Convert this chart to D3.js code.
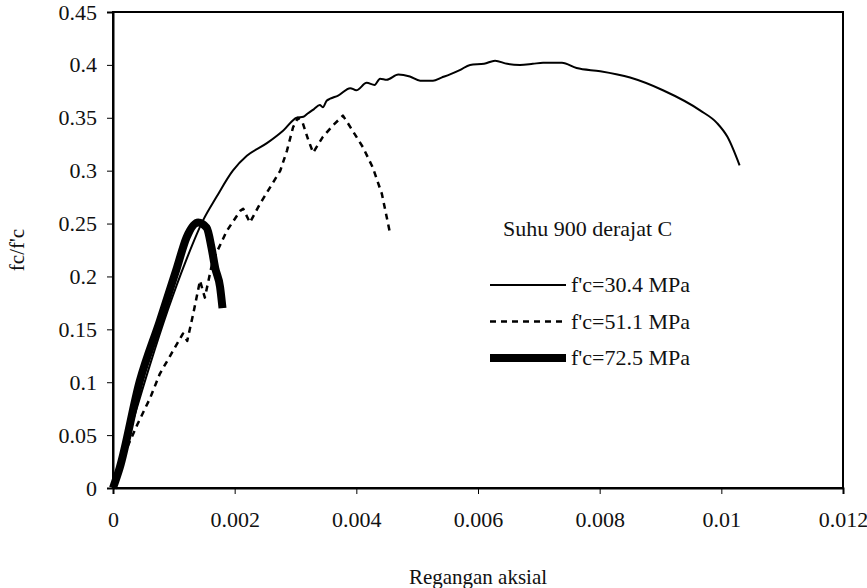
<!DOCTYPE html>
<html>
<head>
<meta charset="utf-8">
<script src="https://cdn.jsdelivr.net/npm/d3@7"></script>
<style>
  body { margin: 0; background: #fff; }
  text { font-family: "Liberation Serif", "Times New Roman", serif; fill: #111; }
  .axis path, .axis line { stroke: #000; }
</style>
</head>
<body>
<div id="chart"></div>
<script>
// strain / stress ratio
const xTicks = [0, 0.002, 0.004, 0.006, 0.008, 0.01, 0.012];
const yTicks = [0, 0.05, 0.1, 0.15, 0.2, 0.25, 0.3, 0.35, 0.4, 0.45];

const labels = ["f'c=30.4 MPa", "f'c=51.1 MPa", "f'c=72.5 MPa"];

const s304x = [0, 0.0003, 0.0006, 0.0009, 0.0012, 0.00148, 0.0017, 0.00197, 0.0022, 0.00253, 0.0028, 0.00302,
  0.00313, 0.0032, 0.0033, 0.0034, 0.00345, 0.00351, 0.00357, 0.0037, 0.0039, 0.004, 0.00417, 0.0043, 0.00439,
  0.0045, 0.00469, 0.00488, 0.00505, 0.00526, 0.0054, 0.00554, 0.0057, 0.00587, 0.0061, 0.00628, 0.00648, 0.00669,
  0.0069, 0.00707, 0.00738, 0.00762, 0.00801, 0.0085, 0.00904, 0.00965, 0.00993, 0.0101, 0.0103];
const s304y = [0, 0.058, 0.115, 0.168, 0.215, 0.253, 0.275, 0.300, 0.314, 0.326, 0.338, 0.350,
  0.351, 0.354, 0.358, 0.362, 0.360, 0.366, 0.368, 0.371, 0.378, 0.376, 0.383, 0.381, 0.387,
  0.386, 0.391, 0.389, 0.385, 0.385, 0.388, 0.391, 0.395, 0.400, 0.401, 0.404, 0.401, 0.400,
  0.401, 0.402, 0.402, 0.397, 0.394, 0.388, 0.376, 0.357, 0.345, 0.332, 0.305];

const s511x = [0, 0.00023, 0.0004, 0.00061, 0.00077, 0.00094, 0.00115, 0.00122, 0.00132, 0.00143, 0.00151,
  0.00164, 0.00187, 0.00209, 0.00214, 0.00225, 0.00242, 0.00258, 0.00275, 0.00286, 0.00296, 0.00304,
  0.00312, 0.00321, 0.00329, 0.00345, 0.00362, 0.00378, 0.00386, 0.00411, 0.00427, 0.00442, 0.00455];
const s511y = [0, 0.038, 0.060, 0.085, 0.108, 0.125, 0.146, 0.139, 0.165, 0.196, 0.180,
  0.215, 0.243, 0.262, 0.264, 0.251, 0.269, 0.284, 0.300, 0.319, 0.341, 0.350,
  0.345, 0.329, 0.317, 0.332, 0.343, 0.352, 0.345, 0.322, 0.303, 0.278, 0.242];

const s725x = [0, 0.00011, 0.00044, 0.00077, 0.00105, 0.00121, 0.0014, 0.00154, 0.00162, 0.00168, 0.00176, 0.0018];
const s725y = [0, 0.019, 0.101, 0.158, 0.208, 0.237, 0.251, 0.246, 0.227, 0.208, 0.190, 0.170];

let W = 867, H = 588;
let margin = {top: 12, right: 24, bottom: 100, left: 113},
    width = W - margin.left - margin.right,
    height = H - margin.top - margin.bottom;

let x = d3.scaleLinear().domain([0, 0.012]).range([0, width]);
let y = d3.scaleLinear().domain([0, 0.45]).range([height, 0]);

let svg = d3.select("#chart").append("svg")
    .attr("width", W)
    .attr("height", H)
  .append("g")
    .attr("transform", "translate(" + margin.left + "," + margin.top + ")");

// frame
svg.append("rect")
  .attr("x", 0).attr("y", 0)
  .attr("width", width).attr("height", height)
  .attr("fill", "none")
  .attr("stroke", "#000")
  .attr("stroke-width", 2);

let fmt = d => d === 0 ? "0" : String(+d.toFixed(3));

svg.append("g")
  .attr("class", "axis")
  .attr("transform", "translate(0," + height + ")")
  .call(d3.axisBottom(x).tickValues(xTicks).tickSize(6).tickPadding(17).tickFormat(fmt))
  .call(g => g.select(".domain").attr("stroke-width", 2))
  .selectAll("text").style("font-size", "22px");

svg.append("g")
  .attr("class", "axis")
  .call(d3.axisLeft(y).tickValues(yTicks).tickSize(6).tickPadding(10).tickFormat(fmt))
  .call(g => g.select(".domain").attr("stroke-width", 2))
  .selectAll("text").style("font-size", "22px");

let smooth = d3.line().x(d => x(d[0])).y(d => y(d[1])).curve(d3.curveMonotoneX);
let rough = d3.line().x(d => x(d[0])).y(d => y(d[1]));
let zip = (a, b) => a.map((v, i) => [v, b[i]]);

let series = [
  {pts: zip(s304x, s304y), w: 2, dash: null, gen: smooth},
  {pts: zip(s511x, s511y), w: 2.5, dash: "6,5", gen: rough},
  {pts: zip(s725x, s725y), w: 8, dash: null, gen: smooth}
];

series.forEach(s => {
  svg.append("path")
    .datum(s.pts)
    .attr("d", s.gen)
    .attr("fill", "none")
    .attr("stroke", "#000")
    .attr("stroke-width", s.w)
    .attr("stroke-linejoin", "round")
    .attr("stroke-dasharray", s.dash);
});

// title inside plot
svg.append("text")
  .attr("x", 390).attr("y", 224)
  .style("font-size", "22px")
  .text("Suhu 900 derajat C");

// legend
let leg = svg.append("g").attr("transform", "translate(377,273)");
series.forEach((s, i) => {
  leg.append("line")
    .attr("x1", 0).attr("x2", 76)
    .attr("y1", i * 36.5).attr("y2", i * 36.5)
    .attr("stroke", "#000")
    .attr("stroke-width", s.w)
    .attr("stroke-dasharray", s.dash);
  leg.append("text")
    .attr("x", 81).attr("y", i * 36.5 + 7)
    .style("font-size", "22px")
    .text(labels[i]);
});

// axis titles
svg.append("text")
  .attr("transform", "rotate(-90)")
  .attr("x", -height / 2)
  .attr("y", -margin.left + 24)
  .attr("text-anchor", "middle")
  .style("font-size", "21px")
  .text("fc/f'c");

svg.append("text")
  .attr("x", width / 2)
  .attr("y", height + 96)
  .attr("text-anchor", "middle")
  .style("font-size", "21px")
  .text("Regangan aksial");
</script>
</body>
</html>
